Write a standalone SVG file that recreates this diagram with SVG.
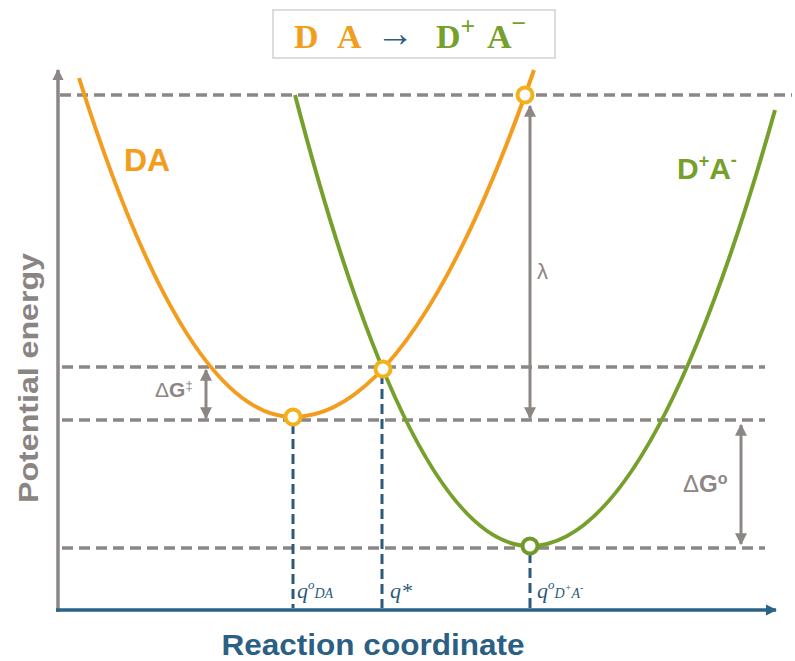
<svg xmlns="http://www.w3.org/2000/svg" width="795" height="661" viewBox="0 0 795 661">
<style>
.gdash{stroke:#8c8785;stroke-width:3.5;stroke-dasharray:11 6;fill:none}
.bdash{stroke:#2b5a7a;stroke-width:3;stroke-dasharray:10 5;fill:none}
.orange{stroke:#f39c1d;stroke-width:4;fill:none}
.green{stroke:#76a02c;stroke-width:4;fill:none}
.garrow{stroke:#8c8685;stroke-width:3;fill:none}
.pt{fill:#fff;stroke-width:4}
.lbl{font-family:"Liberation Sans",Arial,sans-serif}
.ttl{font-family:"Liberation Serif","Times New Roman",serif;font-weight:bold}
.q{font-family:"Liberation Serif","Times New Roman",serif;font-style:italic;fill:#2b5a7a}
</style>
<defs>
<marker id="ga" viewBox="0 0 10 10" refX="9" refY="5" markerWidth="4" markerHeight="4" orient="auto-start-reverse" markerUnits="strokeWidth">
<path d="M0,0 L10,5 L0,10 z" fill="#8c8685"/>
</marker>
<marker id="ax" viewBox="0 0 10 10" refX="9" refY="5" markerWidth="3.2" markerHeight="3.2" orient="auto" markerUnits="strokeWidth">
<path d="M0,0 L10,5 L0,10 z" fill="#8c8685"/>
</marker>
<marker id="bx" viewBox="0 0 10 10" refX="9" refY="5" markerWidth="3.2" markerHeight="3.2" orient="auto" markerUnits="strokeWidth">
<path d="M0,0 L10,5 L0,10 z" fill="#2a6386"/>
</marker>
</defs>
<rect width="795" height="661" fill="#fff"/>

<g id="title">
<rect x="273" y="10" width="282" height="48" fill="#fff" stroke="#d2d2d2" stroke-width="1.5"/>
<text class="ttl" x="294" y="48" font-size="34" fill="#f29d1c">D</text>
<text class="ttl" x="337" y="48" font-size="34" fill="#f29d1c">A</text>
<text class="ttl" x="376" y="46" font-size="38" fill="#2a5f80" font-weight="normal">→</text>
<text class="ttl" x="436" y="48" font-size="34" fill="#76a02c">D<tspan font-size="26" dy="-13">+</tspan></text>
<text class="ttl" x="487" y="48" font-size="34" fill="#76a02c">A<tspan font-size="26" dy="-16">−</tspan></text>
</g>

<g id="axes">
<line x1="58" y1="612" x2="58" y2="70" stroke="#8c8685" stroke-width="3.5" marker-end="url(#ax)"/>
<line x1="56" y1="610" x2="776" y2="610" stroke="#2a6386" stroke-width="3.5" marker-end="url(#bx)"/>
<text class="lbl" transform="translate(38,378) rotate(-90)" text-anchor="middle" font-size="27" font-weight="bold" fill="#8a8583" textLength="250" lengthAdjust="spacingAndGlyphs">Potential energy</text>
<text class="lbl" x="373" y="655" text-anchor="middle" font-size="29" font-weight="bold" fill="#2b5f84" textLength="303" lengthAdjust="spacingAndGlyphs">Reaction coordinate</text>
</g>

<g id="levels">
<line class="gdash" x1="60" y1="95" x2="792" y2="95"/>
<line class="gdash" x1="62" y1="367" x2="765" y2="367"/>
<line class="gdash" x1="62" y1="420" x2="765" y2="420"/>
<line class="gdash" x1="62" y1="548" x2="765" y2="548"/>
<line class="bdash" x1="293" y1="424" x2="293" y2="608"/>
<line class="bdash" x1="382" y1="374" x2="382" y2="608"/>
<line class="bdash" x1="530" y1="553" x2="530" y2="608"/>
</g>

<g id="curve-DA">
<path class="orange" d="M79,78 Q186,417 293,417 Q413.5,417 534,70"/>
<text class="lbl" x="124" y="171" font-size="32" font-weight="bold" fill="#f39c1d">DA</text>
</g>

<g id="curve-DpAm">
<path class="green" d="M295,95 Q412.5,546 530,546 Q652.5,546 775,110"/>
<text class="lbl" x="677" y="179" font-size="30" font-weight="bold" fill="#76a02c">D<tspan font-size="18" dy="-12">+</tspan><tspan dy="12">A</tspan><tspan font-size="18" dy="-13">-</tspan></text>
</g>

<g id="connectors">
<line class="garrow" x1="206" y1="370" x2="206" y2="418" marker-start="url(#ga)" marker-end="url(#ga)"/>
<line class="garrow" x1="530" y1="106" x2="530" y2="418" marker-start="url(#ga)" marker-end="url(#ga)"/>
<line class="garrow" x1="741" y1="425" x2="741" y2="544" marker-start="url(#ga)" marker-end="url(#ga)"/>
</g>

<g id="labels">
<text class="lbl" x="537" y="279" font-size="22" fill="#8c8685">λ</text>
<text class="lbl" x="155" y="397" font-size="21" fill="#8c8685">Δ<tspan font-weight="bold">G</tspan><tspan font-size="13" dy="-7">‡</tspan></text>
<text class="lbl" x="683" y="492" font-size="24" fill="#8c8685">Δ<tspan font-weight="bold">G</tspan><tspan font-size="16" font-weight="bold" dy="-8">o</tspan></text>
<text class="q" x="297" y="598" font-size="22">q<tspan font-size="13" dy="-9">o</tspan><tspan font-size="14" dy="9">DA</tspan></text>
<text class="q" x="390" y="598" font-size="22">q*</text>
<text class="q" x="537" y="598" font-size="22">q<tspan font-size="13" dy="-9">o</tspan><tspan font-size="14" dy="9">D</tspan><tspan font-size="10" dy="-7">+</tspan><tspan font-size="14" dy="7">A</tspan><tspan font-size="10" dy="-7">-</tspan></text>
</g>

<g id="points">
<circle class="pt" cx="293" cy="417" r="7.5" stroke="#f2b21c"/>
<circle class="pt" cx="383" cy="369" r="7.5" stroke="#f2b21c"/>
<circle class="pt" cx="525" cy="95" r="7.5" stroke="#f2b21c"/>
<circle class="pt" cx="530" cy="546" r="7.5" stroke="#6f9a2a"/>
</g>
</svg>
